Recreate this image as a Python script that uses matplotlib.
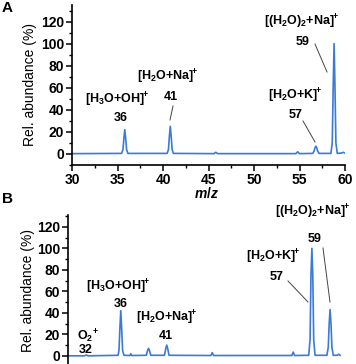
import matplotlib
matplotlib.use("Agg")
import matplotlib.pyplot as plt
from matplotlib.ticker import MultipleLocator

plt.rcParams['font.family'] = ['Liberation Sans', 'DejaVu Sans']
plt.rcParams['mathtext.fontset'] = 'custom'
plt.rcParams['mathtext.rm'] = 'Liberation Sans:bold'
plt.rcParams['mathtext.it'] = 'Liberation Sans:bold:italic'
plt.rcParams['mathtext.bf'] = 'Liberation Sans:bold'

# Panel A spectrum (m/z, relative abundance %)
mz_A = [30, 35.45, 35.6, 35.7, 35.8, 35.9, 36.0, 36.15,
        40.45, 40.6, 40.7, 40.8, 40.9, 41.0, 41.15,
        45.6, 45.8, 46.0, 54.6, 54.8, 55.0,
        56.45, 56.6, 56.7, 56.8, 56.9, 57.0, 57.15,
        58.45, 58.6, 58.7, 58.8, 58.9, 59.0, 59.15,
        59.6, 59.8, 60.0]
ab_A = [0.3, 0.5, 4, 14, 22, 14, 4, 0.5,
        0.5, 4, 16, 25, 16, 4, 0.5,
        0.3, 1.5, 0.3, 0.3, 2, 0.3,
        0.5, 2.5, 5.5, 7, 5.5, 2.5, 0.5,
        0.5, 10, 60, 100, 60, 10, 0.5,
        0.8, 1.5, 0.8]

# Panel B spectrum
mz_B = [30, 31.8, 32.0, 32.2, 35.5, 35.6, 35.7, 35.8, 35.9, 36.0, 36.15,
        36.8, 36.9, 37.0, 38.6, 38.75, 38.85, 38.95, 39.1,
        40.6, 40.75, 40.85, 40.95, 41.1, 45.7, 45.85, 46.0,
        54.6, 54.75, 54.9,
        56.45, 56.6, 56.7, 56.8, 56.9, 57.0, 57.15,
        58.45, 58.6, 58.7, 58.8, 58.9, 59.0, 59.15,
        59.6, 59.75, 59.9]
ab_B = [0.0, 0.0, 0.8, 0.0, 0.5, 5, 25, 42, 25, 5, 0.5,
        0.3, 2, 0.3, 0.5, 5, 7, 5, 0.5,
        0.5, 7, 10, 7, 0.5, 0.3, 3, 0.3,
        0.3, 3.5, 0.3,
        0.5, 15, 75, 100, 75, 15, 0.5,
        0.5, 8, 30, 43, 30, 8, 0.5,
        0.5, 1.5, 0.5]

y_ticks = [0, 20, 40, 60, 80, 100, 120]
x_ticks = [30, 35, 40, 45, 50, 55, 60]

labels_A = [r'[H$_3$O+OH$]^{\!\!+}$', '36', r'[H$_2$O+Na$]^{\!\!+}$', '41',
            r'[(H$_2$O)$_2$+Na$]^{\!\!+}$', '59', r'[H$_2$O+K$]^{\!\!+}$', '57']
labels_B = [r'O$_2$$^{\!+}$', '32', r'[H$_3$O+OH$]^{\!\!+}$', '36',
            r'[H$_2$O+Na$]^{\!\!+}$', '41',
            r'[(H$_2$O)$_2$+Na$]^{\!\!+}$', '59', r'[H$_2$O+K$]^{\!\!+}$', '57']

W, H = 356, 364
fig = plt.figure(figsize=(W / 100, H / 100), dpi=100)

def fx(x):
    return x / W

def fy(y):
    return 1 - y / H

line_color = '#3a7ad8'
fs = 9
tfs = 10

def style(ax, show_x):
    ax.spines['top'].set_visible(False)
    ax.spines['right'].set_visible(False)
    ax.spines['left'].set_linewidth(1.2)
    ax.spines['bottom'].set_linewidth(1.2)
    ax.set_yticks(y_ticks)
    ax.yaxis.set_minor_locator(MultipleLocator(10))
    ax.tick_params(axis='both', which='major', direction='out', length=4, width=1.1,
                   labelsize=tfs, pad=1.5)
    ax.tick_params(axis='both', which='minor', direction='out', length=2, width=1.0)
    for lab in ax.get_yticklabels():
        lab.set_fontweight('bold')
    if show_x:
        ax.set_xticks(x_ticks)
        ax.xaxis.set_minor_locator(MultipleLocator(2.5))
        for lab in ax.get_xticklabels():
            lab.set_fontweight('bold')
    else:
        ax.spines['bottom'].set_visible(False)
        ax.tick_params(axis='x', which='both', bottom=False, labelbottom=False)

# Panel A
axA = fig.add_axes([fx(72), fy(165), fx(345) - fx(72), fy(5) - fy(165)])
axA.plot(mz_A, ab_A, color=line_color, lw=1.2)
axA.set_xlim(30, 60)
axA.set_ylim(-10, 135)
style(axA, True)

# Panel B
axB = fig.add_axes([fx(68), 0, fx(341) - fx(68), fy(215)])
axB.plot(mz_B, ab_B, color=line_color, lw=1.2)
axB.set_xlim(30, 60)
axB.set_ylim(-7.6, 131)
style(axB, False)

def txt(x, y, s, **kw):
    fig.text(fx(x), fy(y), s, ha='center', va='center', fontsize=fs,
             fontweight='bold', **kw)

def seg(x0, y0, x1, y1):
    fig.add_artist(plt.Line2D([fx(x0), fx(x1)], [fy(y0), fy(y1)],
                              color='#444444', lw=0.7))

# Panel A annotations
posA = [(117, 100), (121, 118), (168, 77), (171, 97),
        (302, 22), (303, 42), (295, 96), (296, 115)]
for (x, y), s in zip(posA, labels_A):
    txt(x, y, s)
seg(173, 106, 170, 120)
seg(315, 44, 327, 72)
seg(303, 121, 315, 142)

# Panel B annotations
posB = [(88, 336), (86, 350), (118, 287), (121, 304), (167, 318), (166, 336),
        (313, 212), (315, 239), (273, 257), (277, 277)]
for (x, y), s in zip(posB, labels_B):
    txt(x, y, s)
seg(288, 281, 308, 302)
seg(323, 248, 330, 302)

# Axis labels
fig.text(fx(30), fy(85), 'Rel. abundance (%)', rotation=90, ha='center', va='center',
         fontsize=10)
fig.text(fx(28), fy(291), 'Rel. abundance (%)', rotation=90, ha='center', va='center',
         fontsize=10)
fig.text(fx(207), fy(194), r'$\mathit{m/z}$', ha='center', va='center', fontsize=10)

# Panel letters
fig.text(fx(2), fy(1), 'A', ha='left', va='top', fontsize=11, fontweight='bold')
fig.text(fx(2), fy(192), 'B', ha='left', va='top', fontsize=11, fontweight='bold')

fig.savefig('out.png', dpi=100)
